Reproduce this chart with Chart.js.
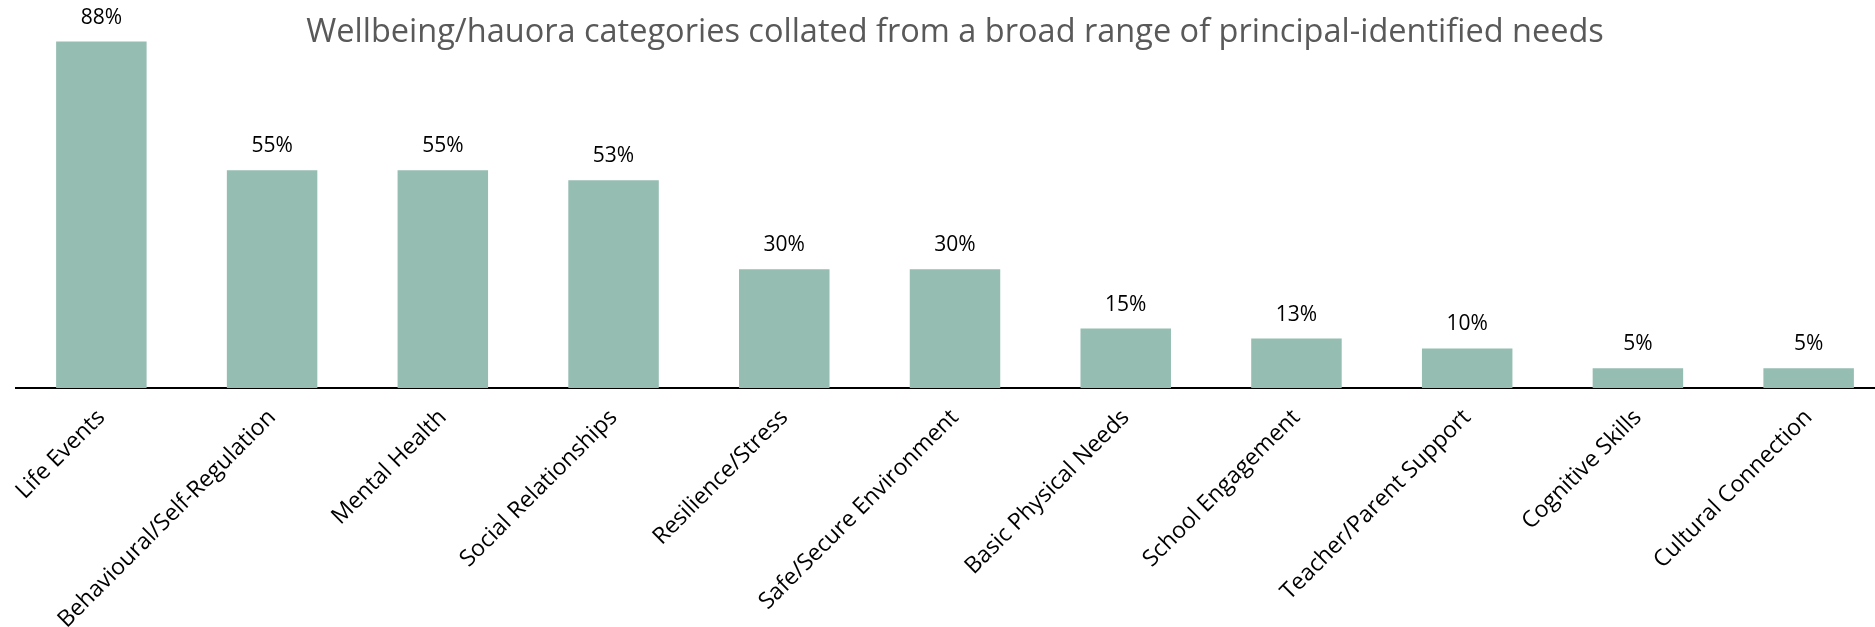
<!DOCTYPE html>
<html>
<head>
<meta charset="utf-8">
<script src="https://cdn.jsdelivr.net/npm/chart.js@4.4.0/dist/chart.umd.min.js"></script>
<style>
  html, body { margin: 0; padding: 0; background: #fff; overflow: hidden; }
  #wrap { width: 1894px; height: 627px; position: relative; }
</style>
</head>
<body>
<div id="wrap"><canvas id="chart"></canvas></div>
<script>
  var chartTitle = "Wellbeing/hauora categories collated from a broad range of principal-identified needs";
  var categories = [
    "Life Events",
    "Behavioural/Self-Regulation",
    "Mental Health",
    "Social Relationships",
    "Resilience/Stress",
    "Safe/Secure Environment",
    "Basic Physical Needs",
    "School Engagement",
    "Teacher/Parent Support",
    "Cognitive Skills",
    "Cultural Connection"
  ];
  // share of principals naming each category (%)
  var shares = [87.5, 55, 55, 52.5, 30, 30, 15, 12.5, 10, 5, 5];

  var FONT = "'Open Sans', 'Noto Sans', sans-serif";

  // percentages printed above each bar
  var valueLabels = {
    id: "valueLabels",
    afterDatasetsDraw: function (chart) {
      var ctx = chart.ctx;
      var meta = chart.getDatasetMeta(0);
      ctx.save();
      ctx.font = "21px " + FONT;
      ctx.fillStyle = "#000";
      ctx.textAlign = "center";
      ctx.textBaseline = "alphabetic";
      meta.data.forEach(function (bar, i) {
        ctx.fillText(Math.round(shares[i]) + "%", bar.x, bar.y - 18);
      });
      ctx.restore();
    }
  };

  // title sits inside the plot area, over the bars
  var overlayTitle = {
    id: "overlayTitle",
    afterDraw: function (chart) {
      var ctx = chart.ctx;
      var area = chart.chartArea;
      ctx.save();
      ctx.font = "32.5px " + FONT;
      ctx.fillStyle = "#595959";
      ctx.textAlign = "center";
      ctx.textBaseline = "alphabetic";
      ctx.fillText(chartTitle, (area.left + area.right) / 2, 42);
      ctx.restore();
    }
  };

  new Chart(document.getElementById("chart"), {
    type: "bar",
    data: {
      labels: categories,
      datasets: [{
        data: shares,
        backgroundColor: "#95bdb2",
        borderWidth: 0,
        barPercentage: 0.53,
        categoryPercentage: 1
      }]
    },
    options: {
      responsive: true,
      maintainAspectRatio: false,
      animation: false,
      layout: { padding: { left: 16, right: 0, top: 0, bottom: 0 } },
      plugins: {
        legend: { display: false },
        tooltip: { enabled: false },
        title: { display: false }
      },
      scales: {
        x: {
          grid: { display: false },
          border: { display: true, color: "#000", width: 2 },
          ticks: {
            color: "#000",
            font: { family: FONT, size: 23 },
            minRotation: 45,
            maxRotation: 45,
            autoSkip: false,
            padding: 8
          },
          afterFit: function (scale) { scale.height = 239; }
        },
        y: {
          display: false,
          min: 0,
          max: 98
        }
      }
    },
    plugins: [valueLabels, overlayTitle]
  });
</script>
</body>
</html>
